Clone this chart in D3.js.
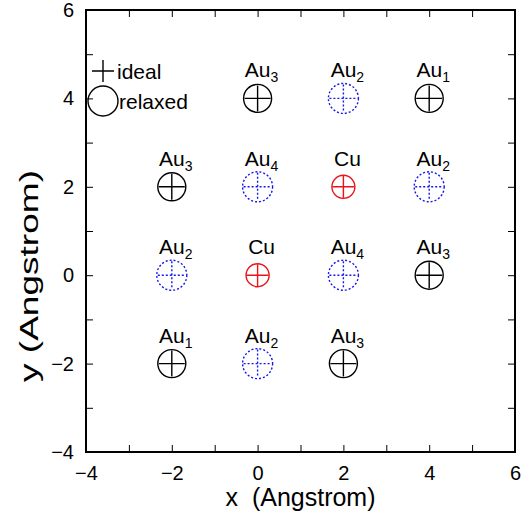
<!DOCTYPE html>
<html><head><meta charset="utf-8">
<script src="https://cdn.jsdelivr.net/npm/d3@7"></script>
<style>html,body{margin:0;padding:0;background:#fff}svg{display:block;font-family:"Liberation Sans",Arial,sans-serif}</style>
</head><body>
<svg id="c" width="522" height="516"></svg>
<script>
// site data
const siteX = [0, 2, 4, -2, 0, 2, 4, -2, 0, 2, 4, -2, 0, 2];
const siteY = [4, 4, 4, 2, 2, 2, 2, 0, 0, 0, 0, -2, -2, -2];
const siteElem = ["Au","Au","Au","Au","Au","Cu","Au","Au","Cu","Au","Au","Au","Au","Au"];
const siteSub = ["3","2","1","3","4","","2","2","","4","3","1","2","3"];
const siteKind = ["black","blue","black","black","blue","red","blue","blue","red","blue","black","black","blue","black"];
const majorTicks = [-4, -2, 0, 2, 4, 6];
const minorTicks = [-3, -1, 1, 3, 5];
const legendLabels = ["ideal", "relaxed"];

const kindStyle = {
  black: {color: "#000", r: 14, arm: 13, dash: null, w: 1.4},
  blue:  {color: "#1515ee", r: 15, arm: 14, dash: "2,2", w: 1.4},
  red:   {color: "#e8141a", r: 11.5, arm: 11, dash: null, w: 1.4}
};

const svg = d3.select("#c");
const L = 86, R = 515, T = 10, B = 452;
const x = d3.scaleLinear().domain([-4, 6]).range([L, R]);
const y = d3.scaleLinear().domain([-4, 6]).range([B, T]);
const FONT = 20;

// axes: ticks inward on all sides
function addAxis(gen, tr, vals, labels) {
  const g = svg.append("g").attr("transform", tr)
    .call(gen.tickValues(vals).tickSize(-7).tickPadding(labels ? 14 : 0)
      .tickFormat(labels ? d => (d < 0 ? "\u2212" + Math.abs(d) : d) : ""));
  g.select(".domain").remove();
  g.selectAll(".tick line").attr("stroke", "#000").attr("stroke-width", 1);
  g.selectAll(".tick text").attr("fill", "#000").attr("font-size", FONT)
    .attr("font-family", "Liberation Sans, Arial, sans-serif");
  return g;
}
addAxis(d3.axisBottom(x), `translate(0,${B})`, majorTicks, true);
addAxis(d3.axisBottom(x), `translate(0,${B})`, minorTicks, false);
addAxis(d3.axisTop(x), `translate(0,${T})`, majorTicks, false);
addAxis(d3.axisTop(x), `translate(0,${T})`, minorTicks, false);
const yl = addAxis(d3.axisLeft(y), `translate(${L},0)`, majorTicks, true);
addAxis(d3.axisLeft(y), `translate(${L},0)`, minorTicks, false);
addAxis(d3.axisRight(y), `translate(${R},0)`, majorTicks, false);
addAxis(d3.axisRight(y), `translate(${R},0)`, minorTicks, false);
yl.selectAll(".tick text").attr("x", -12);

svg.append("rect").attr("x", L).attr("y", T).attr("width", R - L).attr("height", B - T)
  .attr("fill", "none").attr("stroke", "#000").attr("stroke-width", 2);

// axis titles
svg.append("text").attr("x", (L + R) / 2).attr("y", 506).attr("text-anchor", "middle")
  .attr("font-size", 25).attr("xml:space", "preserve").style("white-space", "pre").text("x  (Angstrom)");
svg.append("text").attr("transform", `translate(38,276) rotate(-90)`)
  .attr("text-anchor", "middle").attr("font-size", 25).attr("textLength", 212)
  .attr("lengthAdjust", "spacingAndGlyphs")
  .text("y (Angstrom)");

// markers
const idx = d3.range(siteX.length);
const sites = svg.append("g").selectAll("g").data(idx).join("g")
  .attr("transform", i => `translate(${x(siteX[i])},${y(siteY[i])})`);
sites.append("circle").attr("r", i => kindStyle[siteKind[i]].r).attr("fill", "none")
  .attr("stroke", i => kindStyle[siteKind[i]].color)
  .attr("stroke-width", i => kindStyle[siteKind[i]].w)
  .attr("stroke-dasharray", i => kindStyle[siteKind[i]].dash);
sites.append("path").attr("fill", "none")
  .attr("d", i => { const a = kindStyle[siteKind[i]].arm; return `M${-a},0H${a}M0,${-a}V${a}`; })
  .attr("stroke", i => kindStyle[siteKind[i]].color)
  .attr("stroke-width", i => kindStyle[siteKind[i]].w)
  .attr("stroke-dasharray", i => kindStyle[siteKind[i]].dash);

// labels
const lab = sites.append("text").attr("x", 4).attr("y", -21).attr("text-anchor", "middle")
  .attr("font-size", 21).attr("fill", "#000");
lab.append("tspan").text(i => siteElem[i]);
lab.append("tspan").attr("font-size", 14).attr("dy", 5).text(i => siteSub[i]);

// legend
const lg = svg.append("g");
lg.append("path").attr("d", "M92,71H114M103,60V82").attr("stroke", "#000").attr("stroke-width", 1.4);
lg.append("text").attr("x", 117).attr("y", 79).attr("font-size", 21).text(legendLabels[0]);
lg.append("circle").attr("cx", 103).attr("cy", 101).attr("r", 15).attr("fill", "none")
  .attr("stroke", "#000").attr("stroke-width", 1.4);
lg.append("text").attr("x", 119).attr("y", 109).attr("font-size", 21).text(legendLabels[1]);
</script>
</body></html>
